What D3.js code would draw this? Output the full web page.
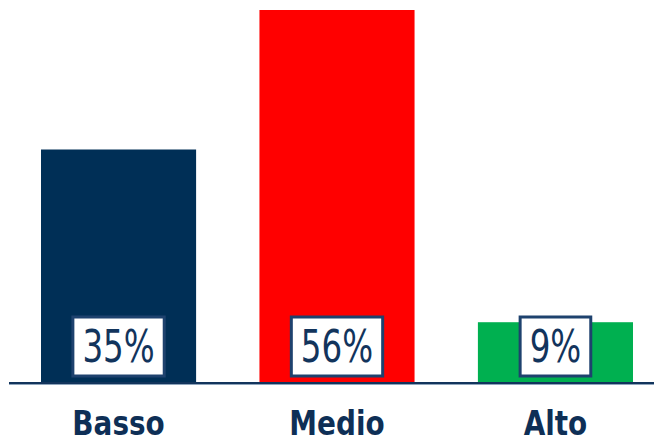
<!DOCTYPE html>
<html>
<head>
<meta charset="utf-8">
<script src="https://cdn.jsdelivr.net/npm/d3@7"></script>
<style>
  html, body { margin: 0; padding: 0; background: #ffffff; }
  svg { display: block; }
</style>
</head>
<body>
<svg id="chart" width="654" height="443"></svg>
<script>
const categories = ["Basso", "Medio", "Alto"];
const values = [35, 56, 9];
const valueLabels = ["35%", "56%", "9%"];
const colors = ["#002F56", "#FF0000", "#00B050"];

const svg = d3.select("#chart");
const W = 654, H = 443;
const baseY = 382;

const x = d3.scaleBand()
  .domain(categories)
  .range([41, 633])
  .paddingInner(0.29)
  .paddingOuter(0);

const y = d3.scaleLinear()
  .domain([0, 56])
  .range([baseY, 10]);

// bars
svg.selectAll("rect.bar")
  .data(categories)
  .enter().append("rect")
  .attr("class", "bar")
  .attr("x", d => x(d))
  .attr("width", x.bandwidth())
  .attr("y", (d, i) => y(values[i]))
  .attr("height", (d, i) => y(0) - y(values[i]))
  .attr("fill", (d, i) => colors[i]);

// baseline
svg.append("line")
  .attr("x1", 9).attr("x2", W)
  .attr("y1", baseY + 1).attr("y2", baseY + 1)
  .attr("stroke", "#12345C").attr("stroke-width", 2);
svg.append("line")
  .attr("x1", 9).attr("x2", W)
  .attr("y1", baseY + 2.5).attr("y2", baseY + 2.5)
  .attr("stroke", "#8FA5BC").attr("stroke-width", 1);

// value label boxes
const sx = 0.74;
const g = svg.selectAll("g.lab")
  .data(categories)
  .enter().append("g")
  .attr("class", "lab");

g.each(function(d, i) {
  const gg = d3.select(this);
  const cx = x(d) + x.bandwidth() / 2;
  const rect = gg.append("rect")
    .attr("fill", "#ffffff")
    .attr("stroke", "#1E426E")
    .attr("stroke-width", 3);
  const t = gg.append("text")
    .attr("font-family", "DejaVu Sans")
    .attr("font-size", 44)
    .attr("fill", "#12345C")
    .attr("text-anchor", "middle")
    .attr("transform", `translate(${cx},362) scale(${sx},1)`)
    .text(valueLabels[i]);
  const tw = t.node().getComputedTextLength() * sx;
  const bw = tw + 19;
  rect.attr("x", cx - bw / 2).attr("y", 317)
    .attr("width", bw).attr("height", 59);
});

// category labels
svg.selectAll("text.cat")
  .data(categories)
  .enter().append("text")
  .attr("class", "cat")
  .attr("font-family", "DejaVu Sans")
  .attr("font-weight", "bold")
  .attr("font-size", 34)
  .attr("fill", "#0E2F56")
  .attr("text-anchor", "middle")
  .attr("transform", d => `translate(${x(d) + x.bandwidth() / 2},435) scale(0.82,1)`)
  .text(d => d);
</script>
</body>
</html>
